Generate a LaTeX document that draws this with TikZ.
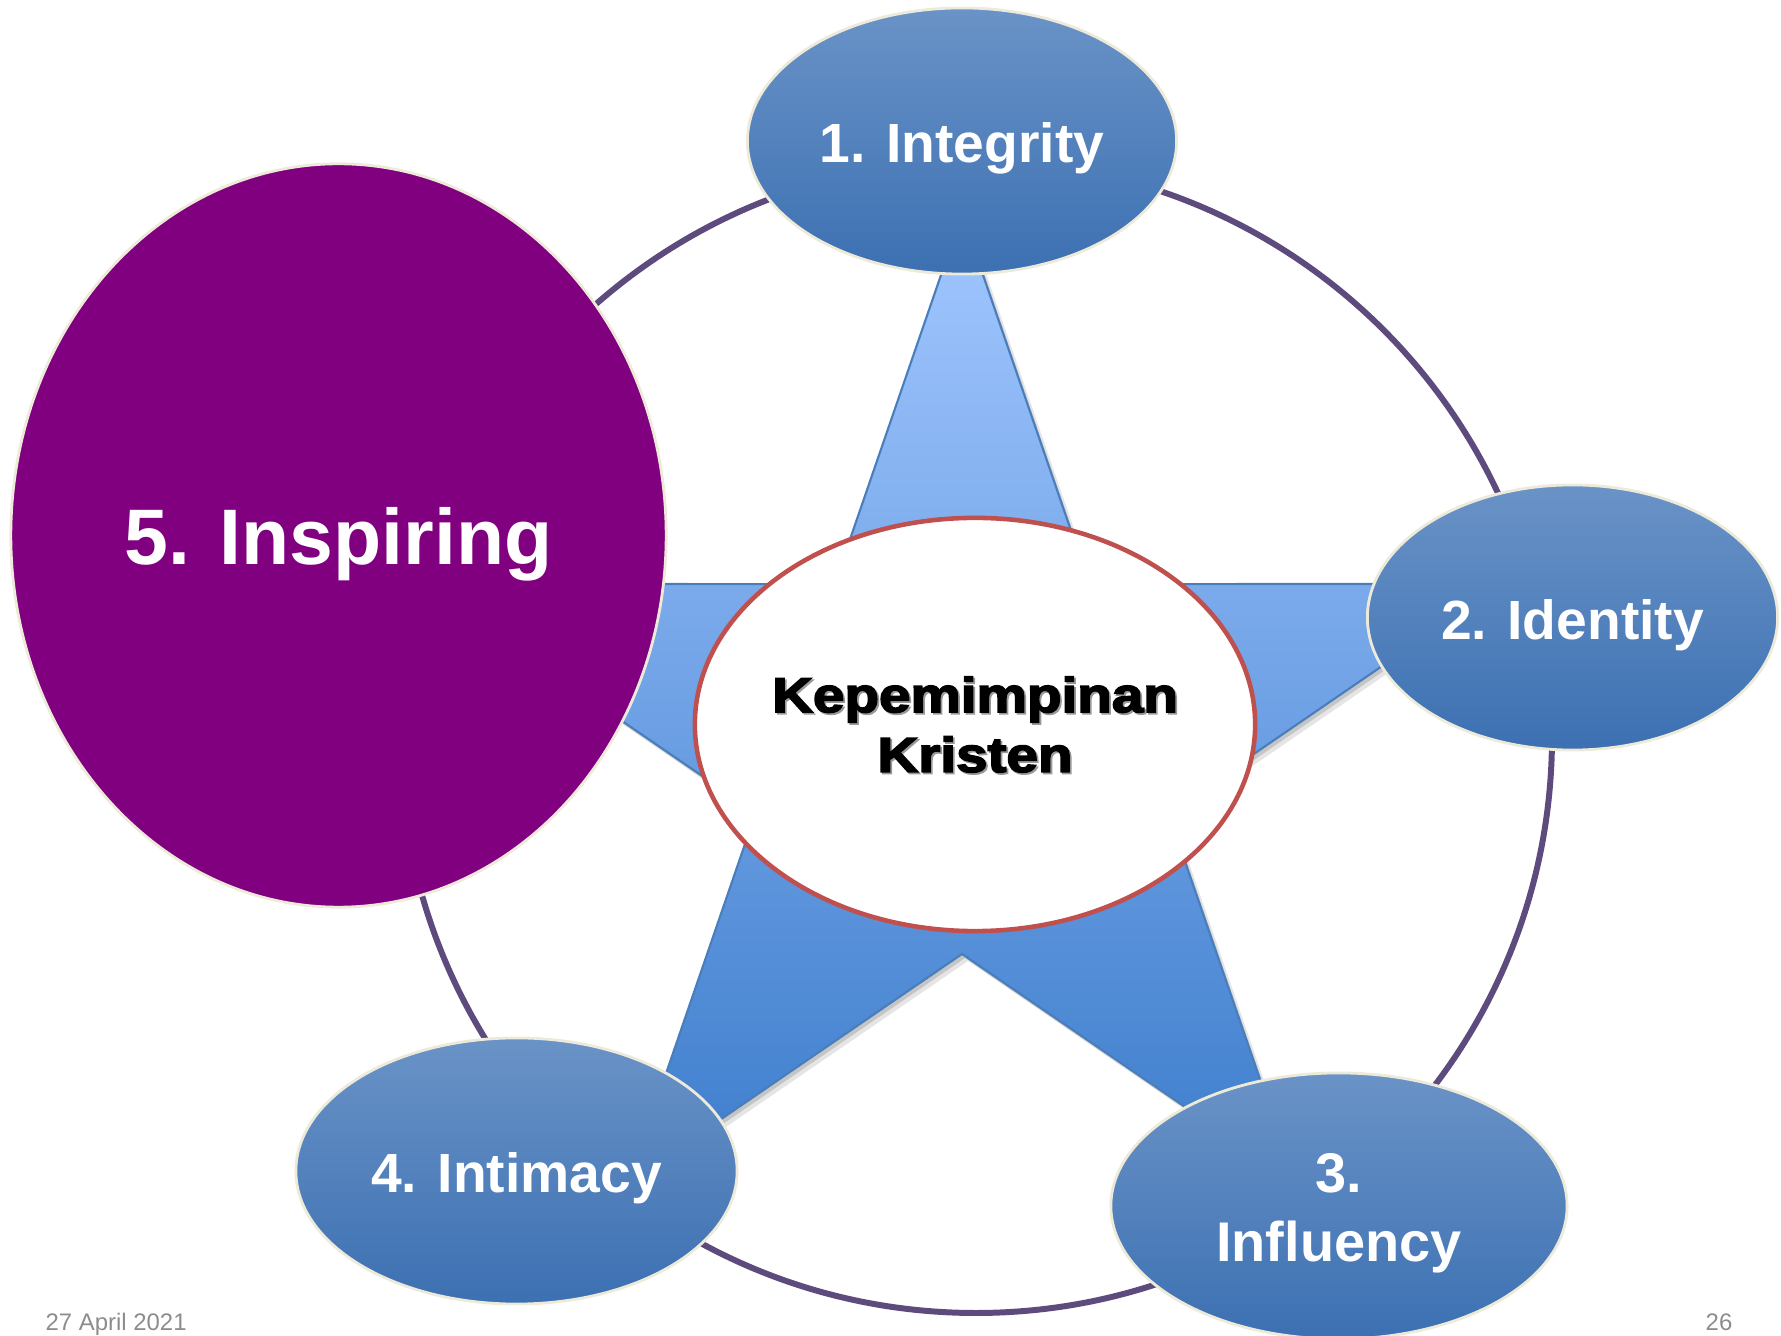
\documentclass[tikz,border=0pt]{standalone}
\usepackage{fontspec}
\setmainfont{Liberation Sans}
\newfontfamily\heavyfont{Liberation Sans}[BoldFeatures={FakeBold=3}]
\usepackage{graphicx}
\usetikzlibrary{shapes.geometric}
\definecolor{ringc}{HTML}{5E4B7D}
\definecolor{ellTop}{HTML}{6A93C7}
\definecolor{ellBot}{HTML}{3C70B2}
\definecolor{rimc}{HTML}{EEEADA}
\definecolor{starTop}{HTML}{A2C7FF}
\definecolor{starBot}{HTML}{3D7DCC}
\definecolor{starEdge}{HTML}{4A7EBB}
\definecolor{purp}{HTML}{800080}
\definecolor{ctrRim}{HTML}{C0504D}
\definecolor{footc}{HTML}{8C8C8C}
\tikzset{
  ringline/.style={draw=ringc, line width=1.7pt},
  blueell/.style={ellipse, inner sep=0pt, top color=ellTop, bottom color=ellBot, draw=rimc, line width=0.8pt},
  purpell/.style={ellipse, inner sep=0pt, fill=purp, draw=rimc, line width=0.8pt},
  ctrell/.style={ellipse, inner sep=0pt, fill=white, draw=ctrRim, line width=1.3pt},
  lbl/.style={text=white, inner sep=0pt, font=\bfseries\fontsize{15.7pt}{19pt}\selectfont, text height=11.6pt, text depth=0pt},
  biglbl/.style={text=white, inner sep=0pt, font=\bfseries\fontsize{22.4pt}{27pt}\selectfont, text height=16.1pt, text depth=0pt},
  twolbl/.style={text=white, inner sep=0pt, align=center, font=\bfseries\fontsize{15.9pt}{19.6pt}\selectfont},
  ctrlbl/.style={inner sep=0pt, align=center, font=\heavyfont\bfseries\fontsize{14pt}{17pt}\selectfont},
  foot/.style={text=footc, inner sep=0pt, font=\fontsize{6.8pt}{8pt}\selectfont}
}
\begin{document}
\begin{tikzpicture}[x=0.01cm, y=0.01cm]
\useasboundingbox (0,0) rectangle (1781,1336);
% ring
\coordinate (rc) at (976,599);
\draw[ringline] (rc) circle[radius=576];
% star
\def\starpath{(962,1122) -- (834.6,751.9) -- (422.2,752) -- (755.8,523.3) -- (628.4,153.3) -- (962,382) -- (1295.6,153.3) -- (1168.2,523.3) -- (1501.8,752) -- (1089.4,751.9) -- cycle}
\fill[black, opacity=0.10, shift={(6,-7)}] \starpath;
\fill[black, opacity=0.14, shift={(3,-4)}] \starpath;
\path[top color=starTop, bottom color=starBot, draw=starEdge, line width=0.6pt] \starpath;
% outer ellipses
\node[blueell, minimum width=4.29cm, minimum height=2.66cm] (integ) at (962,1195) {};
\node[blueell, minimum width=4.10cm, minimum height=2.65cm] (ident) at (1572.5,718.5) {};
\node[blueell, minimum width=4.56cm, minimum height=2.66cm] (infl) at (1339,130) {};
\node[blueell, minimum width=4.41cm, minimum height=2.66cm] (intim) at (516.5,165) {};
\node[purpell, minimum width=6.55cm, minimum height=7.43cm] (insp) at (338.5,800.5) {};
% centre
\node[ctrell, minimum width=5.60cm, minimum height=4.13cm] (ctr) at (975,611.5) {};
% labels
\node[lbl] (integT) at ([yshift=-0.4pt]integ.center) {1. Integrity};
\node[lbl] (identT) at ([yshift=-0.4pt]ident.center) {2. Identity};
\node[twolbl] (inflT) at ([yshift=-2.2pt]infl.center) {3.\\Influency};
\node[lbl] (intimT) at ([yshift=-0.4pt]intim.center) {4. Intimacy};
\node[biglbl] (inspT) at ([yshift=-0.3pt]insp.center) {5. Inspiring};
\node[ctrlbl, text=black!40, xshift=0.5pt, yshift=-0.5pt] (ctrS) at (ctr.center) {\scalebox{1.15}[1]{Kepemimpinan}\\\scalebox{1.15}[1]{Kristen}};
\node[ctrlbl, text=black] (ctrT) at (ctr.center) {\scalebox{1.15}[1]{Kepemimpinan}\\\scalebox{1.15}[1]{Kristen}};
% footer
\node[foot, anchor=base west] (date) at (45,5) {27 April 2021};
\node[foot, anchor=base east] (pg) at (1733,5) {26};
\end{tikzpicture}
\end{document}
